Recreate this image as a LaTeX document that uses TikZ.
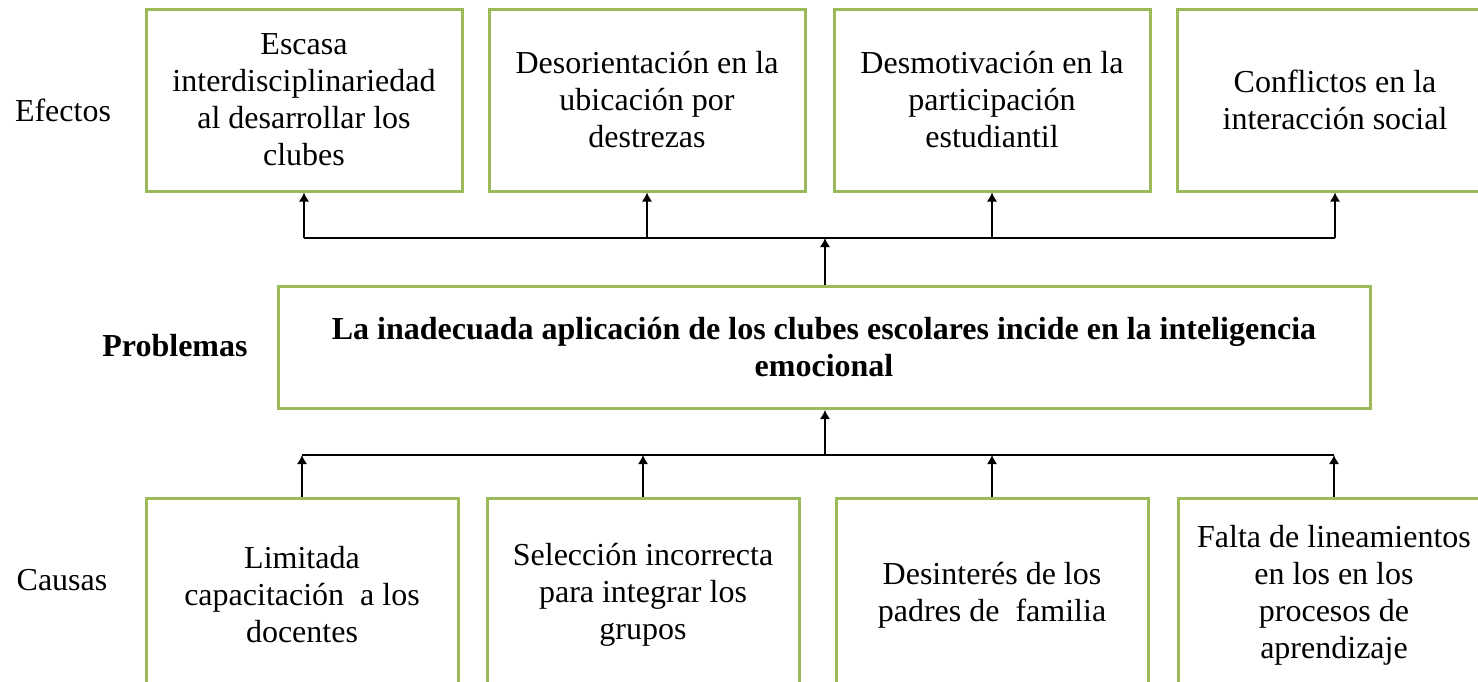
\documentclass[tikz,border=0pt]{standalone}
\usepackage{fontspec}
\setmainfont{Liberation Serif}
\usetikzlibrary{arrows.meta}
\definecolor{boxgreen}{RGB}{155,187,89}

\begin{document}
\begin{tikzpicture}[x=0.5pt,y=-0.5pt,
    caja/.style={draw=boxgreen,line width=1.5pt,align=center,inner sep=2pt},
    efecto/.style={caja,minimum width=158pt,minimum height=91pt},
    causa/.style={caja,minimum width=156pt,minimum height=97pt},
    flecha/.style={-{Latex[length=4.5pt,width=5pt]},line width=0.6pt},
    font=\fontsize{16}{18.5}\selectfont]
    \useasboundingbox (0,0) rectangle (1478,681);
    \clip (0,0) rectangle (1478,681);
    % etiquetas
    \node (lefectos) at (63,110) {Efectos};
    \node (lproblemas) at (175,346) {\bfseries Problemas};
    \node (lcausas) at (62,580) {Causas};
    % efectos
    \node[efecto] (e1) at (304,100) {Escasa\\interdisciplinariedad\\al desarrollar los\\clubes};
    \node[efecto] (e2) at (647,100) {Desorientación en la\\ubicación por\\destrezas};
    \node[efecto] (e3) at (992,100) {Desmotivación en la\\participación\\estudiantil};
    \node[efecto] (e4) at (1335,100) {Conflictos en la\\interacción social};
    % problema
    \node[caja,minimum width=546pt,minimum height=61pt] (prob) at (824,347.5)
      {\bfseries La inadecuada aplicación de los clubes escolares incide en la inteligencia\\\bfseries emocional};
    % causas
    \node[causa] (c1) at (302,595) {Limitada\\capacitación~ a los\\docentes};
    \node[causa] (c2) at (643,595) {Selección incorrecta\\para integrar los\\grupos};
    \node[causa] (c3) at (992,595) {Desinterés de los\\padres de~ familia};
    \node[causa] (c4) at (1334,595) {Falta de lineamientos\\en los en los\\procesos de\\aprendizaje};
    % conectores
    \coordinate (barrasup) at (825,238);
    \coordinate (barrainf) at (825,455);
    \draw[flecha] (prob.north -| barrasup) -- (barrasup);
    \draw[line width=0.6pt] (e1.south |- barrasup) -- (e4.south |- barrasup);
    \foreach \n in {e1,e2,e3,e4}
      \draw[flecha] (\n.south |- barrasup) -- (\n.south);
    \draw[flecha] (barrainf) -- (prob.south -| barrainf);
    \draw[line width=0.6pt] (c1.north |- barrainf) -- (c4.north |- barrainf);
    \foreach \n in {c1,c2,c3,c4}
      \draw[flecha] (\n.north) -- (\n.north |- barrainf);
  \end{tikzpicture}
\end{document}
